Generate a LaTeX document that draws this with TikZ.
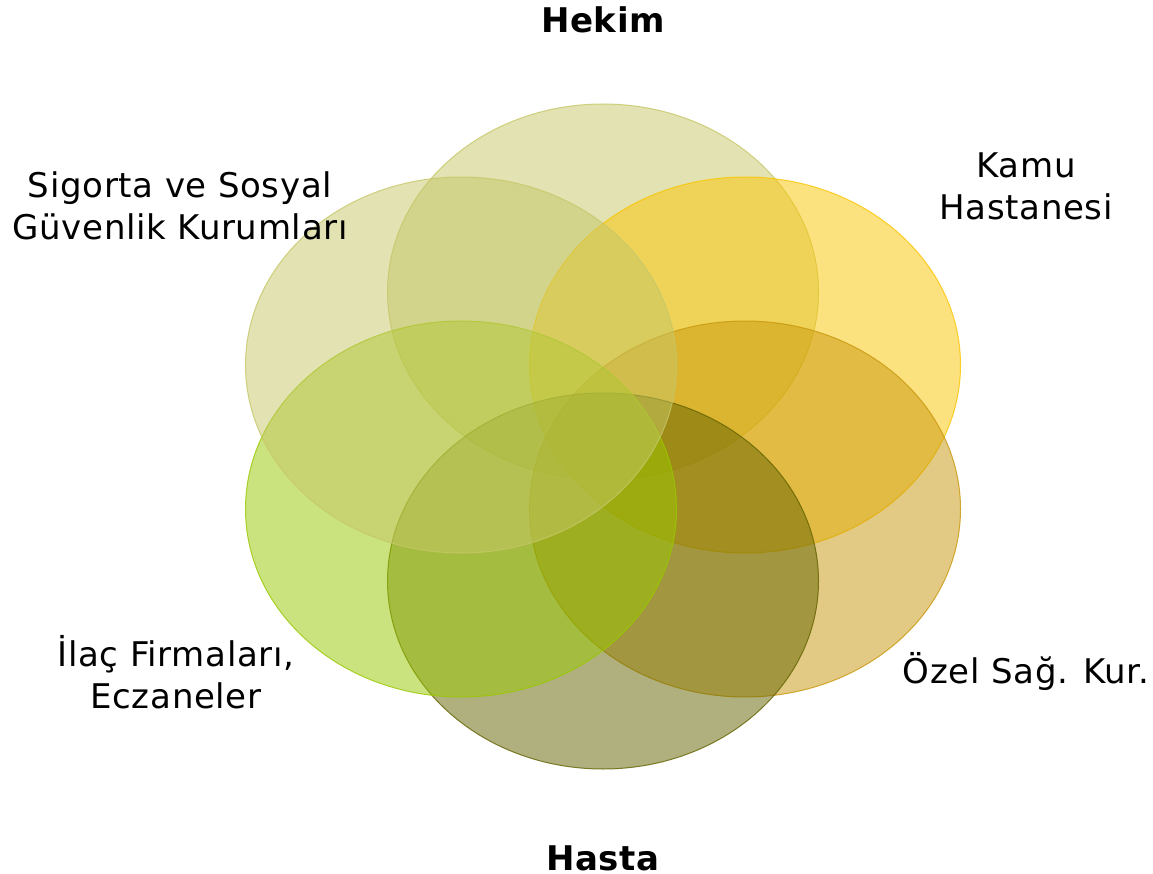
\documentclass[tikz,border=0pt]{standalone}
\usepackage{fontspec}
\setmainfont{DejaVu Sans}[LetterSpace=2]
\definecolor{nolive}{RGB}{198,199,103}
\definecolor{nyellow}{RGB}{251,197,0}
\definecolor{ngold}{RGB}{201,151,10}
\definecolor{ndark}{RGB}{99,99,0}
\definecolor{ngreen}{RGB}{153,200,0}

\begin{document}
\begin{tikzpicture}[x=1pt,y=-1pt]
    \tikzstyle{every node}=[inner sep=0,outer sep=0,align=center,font=\fontsize{34}{42}\selectfont]
    \tikzstyle{blob}=[fill opacity=0.5,draw opacity=0.8,line width=1pt]
    \useasboundingbox (0,0) rectangle (1153,874);
    \fill[white] (0,0) rectangle (1153,874);
    \draw [blob, fill=nolive, draw=nolive] (603,292) ellipse (215.5pt and 188pt);
    \draw [blob, fill=nyellow, draw=nyellow] (745,365) ellipse (215.5pt and 188pt);
    \draw [blob, fill=ngold, draw=ngold] (745,509) ellipse (215.5pt and 188pt);
    \draw [blob, fill=ndark, draw=ndark] (603,581) ellipse (215.5pt and 188pt);
    \draw [blob, fill=ngreen, draw=ngreen] (461,509) ellipse (215.5pt and 188pt);
    \draw [blob, fill=nolive, draw=nolive] (461,365) ellipse (215.5pt and 188pt);
    \node[font=\fontsize{34}{42}\selectfont\bfseries] (hekim) at (603,20) {Hekim};
    \node (kamu) at (1026,186) {Kamu\\Hastanesi};
    \node (ozel) at (1026,672) {Özel Sağ. Kur.};
    \node[font=\fontsize{34}{42}\selectfont\bfseries] (hasta) at (603,858) {Hasta};
    \node (ilac) at (176,672) {İlaç Firmaları,\\Eczaneler};
    \node (sigorta) at (180,206) {Sigorta ve Sosyal\\Güvenlik Kurumları};
\end{tikzpicture}
\end{document}
